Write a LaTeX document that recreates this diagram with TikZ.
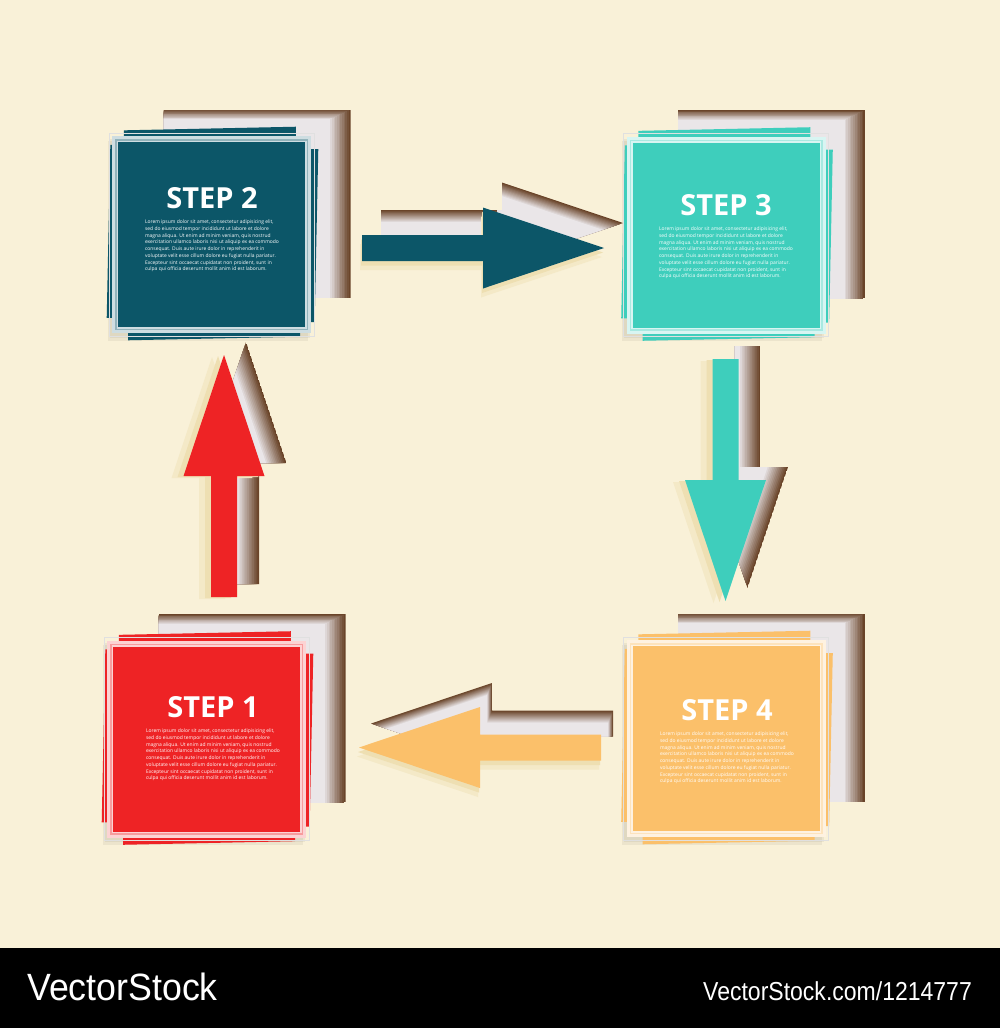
\documentclass[tikz,border=0pt]{standalone}
\usepackage{fontspec}
\setmainfont{Open Sans}
\newfontfamily\wmfont{Liberation Sans}
\usetikzlibrary{positioning}

\definecolor{cream}{HTML}{F9F1D8}
\definecolor{holebrown}{HTML}{6A4429}
\definecolor{holelight}{HTML}{EAE6E8}
\definecolor{shadowbeige}{HTML}{EEDFB2}
\definecolor{redstep}{HTML}{EE2325}
\definecolor{tealstep}{HTML}{0C5668}
\definecolor{turqstep}{HTML}{3ECEBC}
\definecolor{orangestep}{HTML}{FBC06A}

\newcommand{\blockarrow}{(0,-13) -- (121,-13) -- (121,-40.5) -- (242,0) -- (121,40.5) -- (121,13) -- (0,13) -- cycle}
\newcommand{\loremtext}{Lorem ipsum dolor sit amet, consectetur adipisicing elit,\\
sed do eiusmod tempor incididunt ut labore et dolore\\
magna aliqua. Ut enim ad minim veniam, quis nostrud\\
exercitation ullamco laboris nisi ut aliquip ex ea commodo\\
consequat. Duis aute irure dolor in reprehenderit in\\
voluptate velit esse cillum dolore eu fugiat nulla pariatur.\\
Excepteur sint occaecat cupidatat non proident, sunt in\\
culpa qui officia deserunt mollit anim id est laborum.}

\tikzset{
  card/.style={rectangle,fill=#1,draw=white!80!#1,line width=6pt,minimum width=193pt,minimum height=191pt,inner sep=0pt},
  steplabel/.style={text=white,inner sep=0pt,font=\fontsize{29}{29}\selectfont\bfseries},
  lorem/.style={text=white,inner sep=0pt,align=left,font=\fontsize{4.95}{6.7}\selectfont},
  wm/.style={text=white,inner sep=0pt,font=\wmfont}
}

\begin{document}
\begin{tikzpicture}[x=1pt,y=-1pt]
\useasboundingbox (0,0) rectangle (1000,1028);
\fill[cream] (0,0) rectangle (1000,948);
\fill[black] (0,948) rectangle (1000,1028);

\foreach \cx/\cy in {206.5/739,211.5/234.5,726/235,726/738.5}{
  \begin{scope}
    \clip ({\cx-48},{\cy-125}) rectangle ({\cx+139},{\cy+63});
    \foreach \k in {0,...,12}{
      \pgfmathtruncatemacro\pct{100*\k/12}
      \fill[holelight!\pct!holebrown] ({\cx-48-1.7*\k},{\cy-125+0.8*\k}) rectangle ({\cx+139-1.7*\k},{\cy+63+0.8*\k});
    }
  \end{scope}
}

\foreach \ax/\ay/\ang/\hx/\hy/\ix/\iy/\sx/\sy/\col in {362/248/0/19/-25/-0.4/1/-2/9/tealstep,725.5/359/-90/22/-13/-1.7/0/-12/2/turqstep,601/747.5/180/12/-24/-0.4/1/-2/9/orangestep,224/597/90/22/-13/-1.7/0/-12/2/redstep}{
  \begin{scope}
    \clip[shift={({\ax+\hx},{\ay+\hy})},rotate=\ang] \blockarrow;
    \foreach \k in {0,...,12}{
      \pgfmathtruncatemacro\pct{100*\k/12}
      \fill[holelight!\pct!holebrown,shift={({\ax+\hx+\k*\ix},{\ay+\hy+\k*\iy})},rotate=\ang] \blockarrow;
    }
  \end{scope}
  \fill[shadowbeige!45!cream,shift={({\ax+\sx},{\ay+\sy})},rotate=\ang] \blockarrow;
  \fill[shadowbeige,shift={({\ax+0.5*\sx},{\ay+0.5*\sy})},rotate=\ang] \blockarrow;
  \fill[\col,shift={(\ax,\ay)},rotate=\ang] \blockarrow;
}

\foreach \n/\cx/\cy/\col/\lx/\ly in {1/206.5/739/redstep/6.5/-32,2/211.5/234.5/tealstep/0.5/-36.5,3/726/235/turqstep/0/-30,4/726/738.5/orangestep/1/-28.5}{
  \fill[black,opacity=.05] ({\cx-104},{\cy-94}) rectangle ({\cx+96},{\cy+106});
  \fill[black,opacity=.05] ({\cx-102},{\cy-96}) rectangle ({\cx+98},{\cy+103});
  \fill[\col,rotate around={1.2:({\cx+0.5},{\cy-1})}] ({\cx+0.5-86},{\cy-1-105}) rectangle ({\cx+0.5+86},{\cy-1+105});
  \fill[\col,rotate around={-1.2:({\cx+1},{\cy-1})}] ({\cx+1-104},{\cy-1-86.5}) rectangle ({\cx+1+104},{\cy-1+86.5});
  \node[card=\col] (step\n) at (\cx,\cy) {};
  \draw[white!55!\col,line width=1.5pt] ([shift={(3.75,3.75)}]step\n.north west) rectangle ([shift={(-3.75,-3.75)}]step\n.south east);
  \draw[black!12,line width=0.6pt] ([shift={(-3,-3)}]step\n.north west) rectangle ([shift={(3,3)}]step\n.south east);
  \node[steplabel] (label\n) at ({\cx+\lx},{\cy+\ly}) {STEP \n};
  \node[lorem,below=11pt of label\n] (text\n) {\loremtext};
}

\node[wm,anchor=base west,xscale=.94,font=\wmfont\fontsize{38}{38}\selectfont] (brand) at (27,1000) {VectorStock};
\node[wm,anchor=base east,xscale=.885,font=\wmfont\fontsize{26}{26}\selectfont] (brandurl) at (972,1000) {VectorStock.com/1214777};
\end{tikzpicture}
\end{document}
